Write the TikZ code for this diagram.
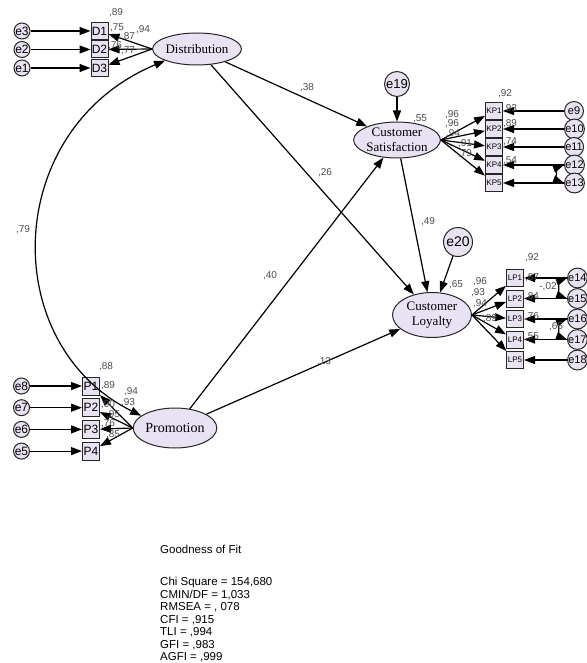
\documentclass[tikz,border=0pt]{standalone}
\usepackage{fontspec}
\setmainfont{Liberation Serif}
\setsansfont{Liberation Sans}
\usetikzlibrary{positioning,arrows.meta,shapes.geometric}
\definecolor{nodefill}{RGB}{233,226,243}
\definecolor{coefgray}{RGB}{75,75,75}

\begin{document}
\begin{tikzpicture}[x=1pt,y=-1pt,>={Triangle[length=11pt,width=8pt]},
		latentnode/.style={ellipse,draw=black!85,line width=1pt,fill=nodefill,inner sep=0pt,align=center,font=\fontsize{13}{15}\selectfont},
		obsnode/.style={rectangle,draw=black!85,line width=1pt,fill=nodefill,inner sep=0pt,minimum width=17pt,minimum height=17pt,font=\sffamily\fontsize{12}{12}\selectfont},
		errnode/.style={circle,draw=black!85,line width=1pt,fill=nodefill,inner sep=0pt,minimum size=16pt,font=\sffamily\fontsize{12}{12}\selectfont},
		coef/.style={inner sep=0pt,text=coefgray,font=\sffamily\fontsize{10}{10}\selectfont},
		arrowline/.style={->,line width=1.2pt},
		covline/.style={<->,line width=1.2pt}]
		\useasboundingbox (0,0) rectangle (586,663);

		% latent variables
		\node[latentnode,minimum width=80pt,minimum height=32pt]	(Dist)	at (197,49)		{Distribution};
		\node[latentnode,minimum width=77pt,minimum height=40pt,font=\fontsize{14}{14}\selectfont]	(Prom)	at (175,428)	{Promotion};
		\node[latentnode,minimum width=80pt,minimum height=36pt]	(CS)	at (397,140)	{Customer\\Satisfaction};
		\node[latentnode,minimum width=79pt,minimum height=45pt]	(CL)	at (432,315)	{Customer\\Loyalty};
		\node[errnode,minimum size=25pt,font=\sffamily\fontsize{13}{13}\selectfont]	(e19)	at (397,84)	{e19};
		\node[errnode,minimum size=29pt,font=\sffamily\fontsize{14}{14}\selectfont]	(e20)	at (458,242)	{e20};

		% indicators
		\node[obsnode]								(D1)	at (99.5,31)	{D1};
		\node[obsnode,node distance=0.5pt,below=of D1]	(D2)		{D2};
		\node[obsnode,node distance=0.5pt,below=of D2]	(D3)		{D3};
		\node[obsnode,minimum height=18pt]					(P1)	at (91,386)	{P1};
		\node[obsnode,minimum height=18pt,node distance=2.7pt,below=of P1]	(P2)	{P2};
		\node[obsnode,minimum height=18pt,node distance=2.7pt,below=of P2]	(P3)	{P3};
		\node[obsnode,minimum height=18pt,node distance=2.7pt,below=of P3]	(P4)	{P4};
		\node[obsnode,font=\sffamily\fontsize{8}{8}\selectfont]	(KP1)	at (494,111)	{KP1};
		\node[obsnode,font=\sffamily\fontsize{8}{8}\selectfont,node distance=0pt,below=of KP1]	(KP2)	{KP2};
		\node[obsnode,font=\sffamily\fontsize{8}{8}\selectfont,node distance=0pt,below=of KP2]	(KP3)	{KP3};
		\node[obsnode,font=\sffamily\fontsize{8}{8}\selectfont,node distance=0pt,below=of KP3]	(KP4)	{KP4};
		\node[obsnode,font=\sffamily\fontsize{8}{8}\selectfont,node distance=0pt,below=of KP4]	(KP5)	{KP5};
		\node[obsnode,font=\sffamily\fontsize{8}{8}\selectfont]	(LP1)	at (515,278)	{LP1};
		\node[obsnode,font=\sffamily\fontsize{8}{8}\selectfont,node distance=2.5pt,below=of LP1]	(LP2)	{LP2};
		\node[obsnode,font=\sffamily\fontsize{8}{8}\selectfont,node distance=2.5pt,below=of LP2]	(LP3)	{LP3};
		\node[obsnode,font=\sffamily\fontsize{8}{8}\selectfont,node distance=2.5pt,below=of LP3]	(LP4)	{LP4};
		\node[obsnode,font=\sffamily\fontsize{8}{8}\selectfont,node distance=2.5pt,below=of LP4]	(LP5)	{LP5};

		% error terms
		\node[errnode,node distance=60pt,left=of D1]	(e3)	{e3};
		\node[errnode,node distance=60pt,left=of D2]	(e2)	{e2};
		\node[errnode,node distance=60pt,left=of D3]	(e1)	{e1};
		\node[errnode,node distance=52pt,left=of P1]	(e8)	{e8};
		\node[errnode,node distance=52pt,left=of P2]	(e7)	{e7};
		\node[errnode,node distance=52pt,left=of P3]	(e6)	{e6};
		\node[errnode,node distance=52pt,left=of P4]	(e5)	{e5};
		\node[errnode,minimum size=19pt,font=\sffamily\fontsize{11}{11}\selectfont,node distance=61pt,right=of KP1]	(e9)	{e9};
		\node[errnode,minimum size=19pt,font=\sffamily\fontsize{11}{11}\selectfont,node distance=61pt,right=of KP2]	(e10)	{e10};
		\node[errnode,minimum size=19pt,font=\sffamily\fontsize{11}{11}\selectfont,node distance=61pt,right=of KP3]	(e11)	{e11};
		\node[errnode,minimum size=19pt,font=\sffamily\fontsize{11}{11}\selectfont,node distance=61pt,right=of KP4]	(e12)	{e12};
		\node[errnode,minimum size=19pt,font=\sffamily\fontsize{11}{11}\selectfont,node distance=61pt,right=of KP5]	(e13)	{e13};
		\node[errnode,minimum size=19pt,font=\sffamily\fontsize{11}{11}\selectfont,node distance=43pt,right=of LP1]	(e14)	{e14};
		\node[errnode,minimum size=19pt,font=\sffamily\fontsize{11}{11}\selectfont,node distance=43pt,right=of LP2]	(e15)	{e15};
		\node[errnode,minimum size=19pt,font=\sffamily\fontsize{11}{11}\selectfont,node distance=43pt,right=of LP3]	(e16)	{e16};
		\node[errnode,minimum size=19pt,font=\sffamily\fontsize{11}{11}\selectfont,node distance=43pt,right=of LP4]	(e17)	{e17};
		\node[errnode,minimum size=19pt,font=\sffamily\fontsize{11}{11}\selectfont,node distance=43pt,right=of LP5]	(e18)	{e18};

		% measurement paths
		\draw[arrowline] (e3) -- (D1);
		\draw[arrowline] (e2) -- (D2);
		\draw[arrowline] (e1) -- (D3);
		\draw[arrowline] (Dist.west) -- (D1);
		\draw[arrowline] (Dist.west) -- (D2);
		\draw[arrowline] (Dist.west) -- (D3);
		\draw[arrowline] (e8) -- (P1);
		\draw[arrowline] (e7) -- (P2);
		\draw[arrowline] (e6) -- (P3);
		\draw[arrowline] (e5) -- (P4);
		\draw[arrowline] (Prom.west) -- (P1);
		\draw[arrowline] (Prom.west) -- (P2);
		\draw[arrowline] (Prom.west) -- (P3);
		\draw[arrowline] (Prom.west) -- (P4);
		\draw[arrowline] (e9) -- (KP1);
		\draw[arrowline] (e10) -- (KP2);
		\draw[arrowline] (e11) -- (KP3);
		\draw[arrowline] (e12) -- (KP4);
		\draw[arrowline] (e13) -- (KP5);
		\draw[arrowline] (CS.east) -- (KP1);
		\draw[arrowline] (CS.east) -- (KP2);
		\draw[arrowline] (CS.east) -- (KP3);
		\draw[arrowline] (CS.east) -- (KP4);
		\draw[arrowline] (CS.east) -- (KP5);
		\draw[arrowline] (e14) -- (LP1);
		\draw[arrowline] (e15) -- (LP2);
		\draw[arrowline] (e16) -- (LP3);
		\draw[arrowline] (e17) -- (LP4);
		\draw[arrowline] (e18) -- (LP5);
		\draw[arrowline] (CL.east) -- (LP1);
		\draw[arrowline] (CL.east) -- (LP2);
		\draw[arrowline] (CL.east) -- (LP3);
		\draw[arrowline] (CL.east) -- (LP4);
		\draw[arrowline] (CL.east) -- (LP5);

		% structural paths
		\draw[arrowline] (Dist) -- (CS);
		\draw[arrowline] (Dist) -- (CL);
		\draw[arrowline] (Prom) -- (CS);
		\draw[arrowline] (Prom) -- (CL);
		\draw[arrowline] (CS) -- (CL);
		\draw[arrowline] (e19) -- (CS);
		\draw[arrowline] (e20) -- (CL);

		% covariances
		\draw[covline] (Dist.200) .. controls (2,129) and (-3,344) .. (Prom.160);
		\draw[covline] (e12.west) to[bend right=70] (e13.west);
		\draw[covline] (e14.west) to[bend right=70] (e15.west);
		\draw[covline] (e16.west) to[bend right=70] (e17.west);

		% estimates
		\node[coef] (r2D1) at (116,13) {,89};
		\node[coef] (wDist) at (143,30) {,94};
		\node[coef] (lD1) at (117,28) {,75};
		\node[coef] (lD1b) at (128,37) {,87};
		\node[coef] (lD2) at (115,46) {,76};
		\node[coef] (lD3) at (128,51) {,77};
		\node[coef] (r2P1) at (106,367) {,88};
		\node[coef] (lP1) at (108,386) {,89};
		\node[coef] (wProm) at (131,392) {,94};
		\node[coef] (wProm2) at (128,403) {,93};
		\node[coef] (lP2) at (108,405) {,90};
		\node[coef] (lP3a) at (113,415) {,95};
		\node[coef] (lP3) at (108,424) {,76};
		\node[coef] (lP4) at (113,435) {,85};
		\node[coef] (bDCS) at (307,88) {,38};
		\node[coef] (bDCL) at (325,173) {,26};
		\node[coef] (bPCS) at (270,276) {,40};
		\node[coef] (bPCL) at (324,362) {,13};
		\node[coef] (bCSCL) at (428,222) {,49};
		\node[coef] (r2CS) at (420,119) {,55};
		\node[coef] (r2CL) at (456,285) {,65};
		\node[coef] (cDP) at (23,230) {,79};
		\node[coef] (r2KP1) at (505,94) {,92};
		\node[coef] (wCS1) at (452,115) {,96};
		\node[coef] (wCS2) at (452,124) {,96};
		\node[coef] (wCS3) at (453,134) {,94};
		\node[coef] (wCS4) at (465,144) {,91};
		\node[coef] (wCS5) at (465,154) {,79};
		\node[coef] (lKP1) at (510,109) {,93};
		\node[coef] (lKP2) at (510,124) {,89};
		\node[coef] (lKP3) at (510,142) {,74};
		\node[coef] (lKP4) at (510,161) {,54};
		\node[coef] (r2LP1) at (532,258) {,92};
		\node[coef] (wCL1) at (480,282) {,96};
		\node[coef] (wCL2) at (478,293) {,93};
		\node[coef] (wCL3) at (480,304) {,94};
		\node[coef] (wCL4) at (490,319) {,89};
		\node[coef] (lLP1) at (532,278) {,87};
		\node[coef] (lLP2) at (532,297) {,84};
		\node[coef] (lLP3) at (532,317) {,76};
		\node[coef] (lLP4) at (532,337) {,55};
		\node[coef] (cE14) at (548,287) {-,02};
		\node[coef] (cE16) at (556,327) {,65};

		% fit indices
		\node[anchor=west,inner sep=0pt,font=\sffamily\fontsize{11.5}{12.5}\selectfont] (gofTitle) at (160,549) {Goodness of Fit};
		\node[anchor=north west,align=left,inner sep=0pt,font=\sffamily\fontsize{11.5}{12.5}\selectfont] (gofBody) at (160,577)
			{Chi Square = 154,680\\CMIN/DF = 1,033\\RMSEA = , 078\\CFI = ,915\\TLI = ,994\\GFI = ,983\\AGFI = ,999};
	\end{tikzpicture}
\end{document}
